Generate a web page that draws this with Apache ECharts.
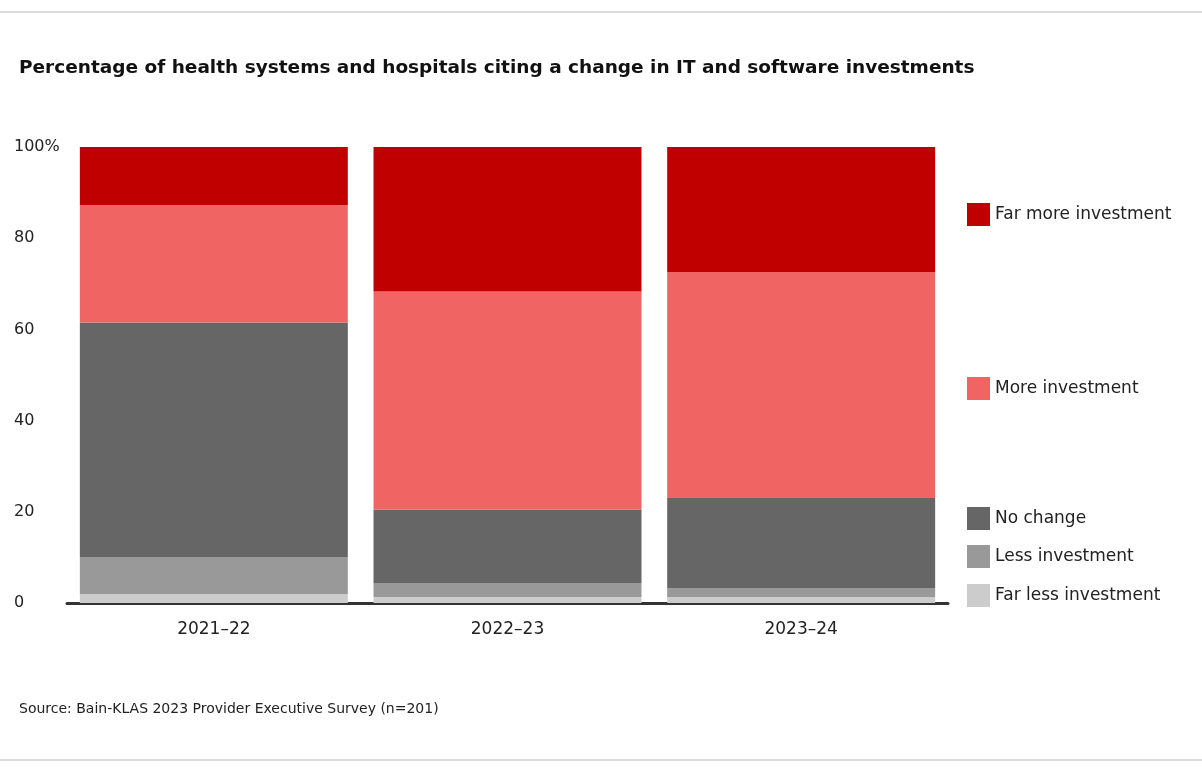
<!DOCTYPE html>
<html><head><meta charset="utf-8">
<script src="https://cdn.jsdelivr.net/npm/echarts@6/dist/echarts.min.js"></script>
<style>html,body{margin:0;padding:0;background:#fff}#c{width:1202px;height:767px}</style>
</head><body><div id="c"></div>
<script>
// values
var years = ['2021–22', '2022–23', '2023–24'];
var farLess = [2, 1.3, 1.3];
var less = [8, 3, 2];
var noChange = [51.5, 16.2, 19.7];
var more = [25.7, 47.8, 49.6];
var farMore = [12.8, 31.7, 27.4];
var yTicks = ['0', '20', '40', '60', '80', '100%'];

var names = ['Far less investment', 'Less investment', 'No change', 'More investment', 'Far more investment'];
var colors = ['#cccccc', '#999999', '#666666', '#f06464', '#c00000'];
var vals = [farLess, less, noChange, more, farMore];
// legend y positions next to the last bar
var legendTop = [579, 540, 502, 372, 198];

var font = 'DejaVu Sans, sans-serif';
var chart = echarts.init(document.getElementById('c'));
chart.setOption({
  backgroundColor: '#fff',
  animation: false,
  textStyle: { fontFamily: font },
  title: [
    { text: 'Percentage of health systems and hospitals citing a change in IT and software investments',
      left: 14, top: 54, textStyle: { fontSize: 18.5, fontWeight: 'bold', color: '#111', fontFamily: font } },
    { text: 'Source: Bain-KLAS 2023 Provider Executive Survey (n=201)',
      left: 14, top: 697, textStyle: { fontSize: 14, fontWeight: 'normal', color: '#222', fontFamily: font } }
  ],
  legend: names.map(function (n, i) {
    return { data: [n], left: 962, top: legendTop[i], icon: 'rect', itemWidth: 23, itemHeight: 23, itemGap: 10,
      textStyle: { fontSize: 17, color: '#222', fontFamily: font }, selectedMode: false };
  }),
  grid: { left: 67, right: 254, top: 147, bottom: 164 },
  xAxis: {
    type: 'category', data: years,
    axisLine: { lineStyle: { color: '#333', width: 3 } },
    axisTick: { show: false },
    axisLabel: { fontSize: 17, color: '#222', margin: 18 }
  },
  yAxis: {
    type: 'value', min: 0, max: 100, interval: 20,
    splitLine: { show: false },
    axisLine: { show: false }, axisTick: { show: false },
    axisLabel: { fontSize: 16, color: '#222', align: 'left', margin: 53,
      formatter: function (v) { return yTicks[v / 20]; } }
  },
  graphic: [
    { type: 'line', shape: { x1: 0, y1: 12, x2: 1202, y2: 12 }, style: { stroke: '#ddd', lineWidth: 2 } },
    { type: 'line', shape: { x1: 0, y1: 760, x2: 1202, y2: 760 }, style: { stroke: '#ddd', lineWidth: 2 } }
  ],
  series: names.map(function (n, i) {
    return { name: n, type: 'bar', stack: 'a', data: vals[i], barCategoryGap: '8.75%',
      itemStyle: { color: colors[i] } };
  })
});
</script></body></html>
